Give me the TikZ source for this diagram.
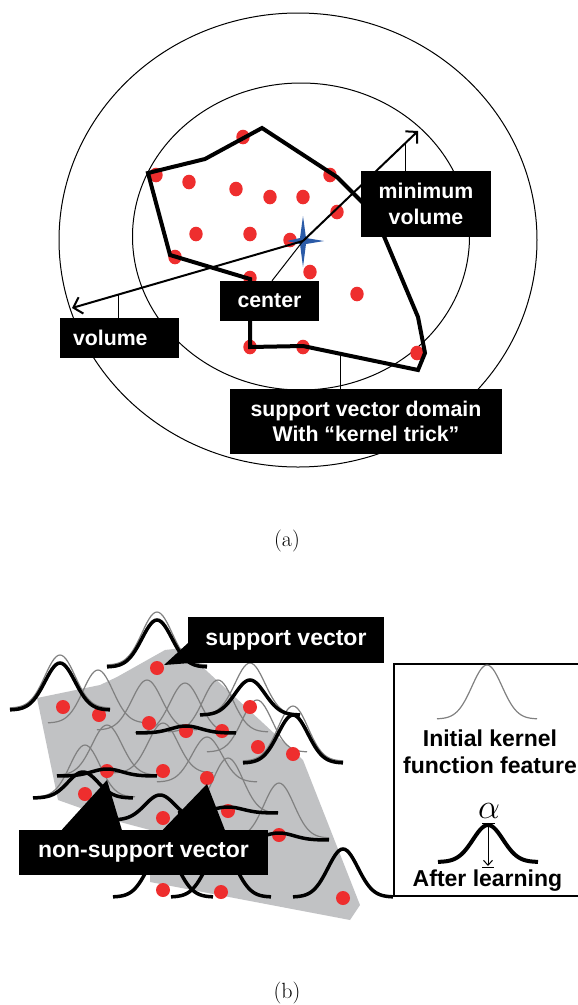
\documentclass[tikz,border=0pt]{standalone}
\usepackage{amsmath}
\usepackage{fontspec}
\usepackage{tikz}
\usetikzlibrary{arrows.meta}

\newfontfamily\boxfont{Liberation Sans}

\definecolor{dotred}{HTML}{EE2E2E}
\definecolor{starblue}{HTML}{2B5BA8}
\definecolor{regiongray}{HTML}{C1C2C4}
\definecolor{kernelgray}{HTML}{808080}

% gaussian bump: [style]{centre x}{baseline y}{height}
\newcommand{\kernel}[4][]{%
  \draw[#1] plot[domain=-50:50, samples=51, smooth] ({#2+(\x)}, {#3-(#4)*exp(-(\x)*(\x)/450)});}

\begin{document}
\begin{tikzpicture}[x=1pt, y=-1pt,
    boxlabel/.style={fill=black, text=white, inner sep=0pt, align=center,
      font=\boxfont\bfseries\fontsize{21.3}{25.5}\selectfont},
    biglabel/.style={boxlabel, font=\boxfont\bfseries\fontsize{23}{27}\selectfont},
    keytext/.style={inner sep=0pt, align=center, font=\boxfont\bfseries\fontsize{23}{27}\selectfont},
    caption/.style={inner sep=0pt, font=\fontsize{22}{26}\selectfont},
    ring/.style={line width=1pt},
    thinline/.style={line width=1pt},
    hull/.style={line width=4pt, line join=miter},
    pointer/.style={line width=2pt, -{Straight Barb[length=8pt, width=17pt, line width=2pt]}},
    kgray/.style={kernelgray, line width=1.2pt},
    kblack/.style={black, line width=3.5pt}]

    \useasboundingbox (0,0) rectangle (578,1005);

    % (a) domain in feature space
    \draw[ring] (298,240) ellipse [x radius=239pt, y radius=227pt];
    \draw[ring] (301,236.5) ellipse [x radius=168.5pt, y radius=153.5pt];

    \foreach \p in {(156,175),(189,182),(236,189),(270,197),(243,137),(196,234),
        (250,234),(290,240),(330,175),(303,197),(337,212),(175,257),(250,278),
        (250,347),(310,272),(357,294),(303,347),(417,353)}
      \fill[dotred] \p ellipse [x radius=6.7pt, y radius=7.3pt];

    \draw[hull] (148,173) -- (205,159) -- (262,128) -- (337,177) -- (375,215)
      -- (418,317) -- (425,353) -- (418,370) -- (303,346) -- (250,347)
      -- (250,279) -- (170,255) -- cycle;

    \coordinate (ctr) at (303,241);
    \coordinate (minTip) at (418,131);
    \coordinate (volTip) at (72,308);
    \coordinate (svdfoot) at (340,356);

    \fill[starblue, shift={(ctr)}] (0,-25) -- (3,-3) -- (21,0) -- (3,3)
      -- (0,26) -- (-3,3) -- (-16,0) -- (-3,-3) -- cycle;

    \draw[pointer] (ctr) -- coordinate[pos=0.887] (minfoot) (minTip);
    \draw[pointer] (ctr) -- coordinate[pos=0.797] (volfoot) (volTip);

    \node[boxlabel, minimum width=130pt, minimum height=66pt] (minvol) at (426,204) {minimum\\volume};
    \node[boxlabel, minimum width=119pt, minimum height=40pt, text width=93pt, align=left] (vol) at (119.5,338) {volume};
    \node[boxlabel, minimum width=99pt, minimum height=40pt] (ctrbox) at (269.5,301) {center};
    \node[boxlabel, minimum width=272pt, minimum height=65pt] (svd) at (366,421.5) {support vector domain\\With “kernel trick”};

    \draw[thinline] (minfoot) -- (minfoot |- minvol.north);
    \draw[thinline] (volfoot) -- (volfoot |- vol.north);
    \draw[thinline] (ctr) -- ([xshift=2.5pt]ctrbox.north);
    \draw[thinline] (svdfoot) -- (svdfoot |- svd.north);

    \node[caption] (capa) at (287,541) {(a)};

    % (b) kernels over the samples
    \fill[regiongray] (37,698) -- (100,685) -- (117,677) -- (165,650) -- (182,648)
      -- (303,760) -- (360,905) -- (350,920) -- (150,882) -- (150,830)
      -- (120,822) -- (58,800) -- cycle;

    \kernel[kgray]{98}{723}{53}
    \kernel[kgray]{147}{730}{50}
    \kernel[kgray]{185}{733}{50}
    \kernel[kgray]{218}{732}{52}
    \kernel[kgray]{250}{715}{52}
    \kernel[kgray]{257}{752}{52}
    \kernel[kgray]{107}{775}{50}
    \kernel[kgray]{163}{773}{50}
    \kernel[kgray]{207}{782}{45}
    \kernel[kgray]{85}{797}{52}
    \kernel[kgray]{228}{813}{55}
    \kernel[kgray]{279}{838}{55}
    \kernel[kgray]{157}{665}{53}
    \kernel[kgray]{60}{708}{53}
    \kernel[kgray]{293}{761}{55}

    \foreach \p in {(157,668),(63,707),(99,715),(149,723),(186,731),(222,731),
        (250,707),(258,747),(293,754),(107,771),(163,771),(207,778),(85,794),
        (163,818),(228,811),(279,835),(163,890),(221,892),(343,898)}
      \fill[dotred] \p circle [radius=7pt];

    \kernel[kblack]{157}{667}{47}
    \kernel[kblack]{60}{710}{47}
    \kernel[kblack]{293}{763}{48}
    \kernel[kblack]{250}{715}{35}
    \kernel[kblack]{343}{897}{48}
    \kernel[kblack]{163}{897}{48}
    \kernel[kblack]{221}{897}{48}
    \kernel[kblack]{83}{798}{26}
    \kernel[kblack]{160}{820}{25}
    \kernel[kblack]{186}{733}{7}
    \kernel[kblack]{107}{776}{7}
    \kernel[kblack]{228}{813}{6}
    \kernel[kblack]{279}{840}{7}

    \coordinate (svtip) at (164,665);
    \node[biglabel, minimum width=196pt, minimum height=46pt] (sv) at (286,640) {support vector};
    \fill (sv.south west) -- ([yshift=20pt]sv.south west) -- (svtip) -- cycle;

    \coordinate (nsvtipA) at (107,780);
    \coordinate (nsvtipB) at (207,784);
    \node[biglabel, minimum width=249pt, minimum height=45pt] (nsv) at (143.5,852.5) {non-support vector};
    \fill ([xshift=43pt]nsv.north west) -- (nsvtipA) -- ([xshift=103pt]nsv.north west) -- cycle;
    \fill ([xshift=144pt]nsv.north west) -- (nsvtipB) -- ([xshift=206pt]nsv.north west) -- cycle;

    % key
    \draw[line width=1.5pt] (578,664) -- (394,664) -- (394,896) -- (578,896);
    \kernel[kgray]{487}{719}{54}
    \node[keytext] (initlbl) at (490,751.5) {Initial kernel\\function feature};
    \node[inner sep=0pt, scale=1.4, font=\fontsize{24}{28}\selectfont] (alpha) at (489,811) {$\alpha$};
    \kernel[black, line width=4pt]{488}{862}{37}
    \draw[thinline] (482,823) -- (495,823);
    \draw[thinline] (482,867) -- (494,867);
    \draw[thinline, -{Straight Barb[length=5pt, width=9pt]}] (488,824) -- (488,866);
    \node[keytext] (afterlbl) at (487.5,881) {After learning};

    \node[caption] (capb) at (287,993) {(b)};
\end{tikzpicture}
\end{document}
